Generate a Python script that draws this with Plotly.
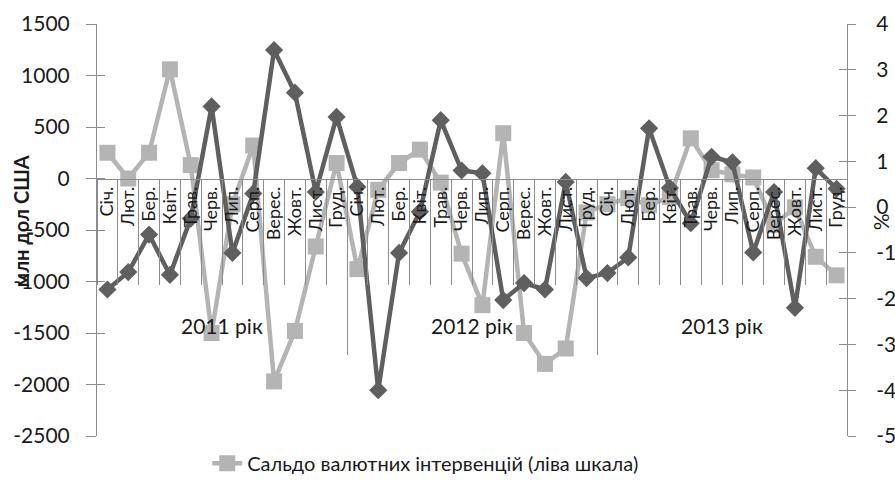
import plotly.graph_objects as go

# ---- data ----
months = ["Січ.", "Лют.", "Бер.", "Квіт.", "Трав.", "Черв.", "Лип.", "Серп.",
          "Верес.", "Жовт.", "Лист.", "Груд."] * 3
years = ["2011 рік", "2012 рік", "2013 рік"]

interventions = [250, 0, 250, 1060, 130, -1500, -250, 320, -1970, -1480, -660, 150,
                 -880, -110, 150, 280, -40, -730, -1230, 440, -1500, -1800, -1650, -330,
                 -250, -190, -260, -180, 390, 80, 40, 10, -450, -280, -760, -940]

pct = [-1.8, -1.42, -0.6, -1.48, -0.25, 2.2, -1.0, 0.3, 3.43, 2.5, 0.33, 1.97,
       0.44, -4.0, -1.0, -0.1, 1.9, 0.8, 0.74, -2.03, -1.66, -1.8, 0.55, -1.55,
       -1.44, -1.1, 1.72, 0.42, -0.35, 1.1, 0.98, -0.99, 0.33, -2.2, 0.85, 0.4]

left_ticks = [1500, 1000, 500, 0, -500, -1000, -1500, -2000, -2500]
right_ticks = [4, 3, 2, 1, 0, -1, -2, -3, -4, -5]

series_name = "Сальдо валютних інтервенцій (ліва шкала)"
series2_name = "Зміна курсу (права шкала)"
left_title = "млн дол США"
right_title = "%"

LIGHT = "#b4b4b4"
DARK = "#5f5f5f"
AXIS = "#8c8c8c"
TXT = "#1a1a1a"
FONT = "Lato"

x = list(range(len(months)))
xrange_ = [-0.5, len(months) - 0.5]
year_bounds = [12 * k - 0.5 for k in range(1, len(years))]
year_centers = [12 * k + 5.5 for k in range(len(years))]
zero_pos = (0 - left_ticks[-1]) / (left_ticks[0] - left_ticks[-1])

fig = go.Figure()
fig.add_trace(go.Scatter(
    x=x, y=interventions, name=series_name, mode="lines+markers",
    line=dict(color=LIGHT, width=4.5),
    marker=dict(symbol="square", size=16, color=LIGHT),
    yaxis="y"))
fig.add_trace(go.Scatter(
    x=x, y=pct, name=series2_name, mode="lines+markers",
    line=dict(color=DARK, width=4.5),
    marker=dict(symbol="diamond", size=14, color=DARK),
    yaxis="y2", showlegend=False))
# empty helper traces so that the overlay axes (dividers / crossing ticks) render
for xa, ya in [("x2", "y"), ("x", "y3"), ("x", "y4")]:
    fig.add_trace(go.Scatter(x=[], y=[], xaxis=xa, yaxis=ya,
                             showlegend=False, hoverinfo="skip"))

fig.update_layout(
    width=895, height=482,
    margin=dict(l=97, r=48, t=24, b=46, autoexpand=False),
    paper_bgcolor="white", plot_bgcolor="white",
    font=dict(family=FONT, color=TXT),
    xaxis=dict(
        range=xrange_, tickmode="array", tickvals=x, ticktext=months,
        tickangle=-90, ticks="", showline=True, linecolor=AXIS, linewidth=1,
        anchor="free", position=zero_pos, showgrid=False, zeroline=False,
        tickfont=dict(size=18, color=TXT, family=FONT),
        minor=dict(tickmode="linear", tick0=-0.5, dtick=1, ticks="outside",
                   ticklen=105, tickcolor=AXIS, tickwidth=1, showgrid=False),
    ),
    xaxis2=dict(
        range=xrange_, overlaying="x", anchor="free", position=zero_pos,
        tickmode="array", tickvals=year_bounds, ticks="outside", ticklen=175,
        tickcolor=AXIS, tickwidth=1, showticklabels=False, showline=False,
        showgrid=False, zeroline=False),
    yaxis=dict(
        range=[left_ticks[-1], left_ticks[0]], tickmode="array",
        tickvals=left_ticks, ticktext=[str(v) for v in left_ticks],
        ticks="outside", ticklen=10, tickcolor=AXIS, showline=True,
        linecolor=AXIS, linewidth=1, showgrid=False, zeroline=False,
        anchor="x", ticklabelstandoff=12,
        tickfont=dict(size=21, color=TXT, family=FONT)),
    yaxis2=dict(
        range=[right_ticks[-1], right_ticks[0]], tickmode="array",
        tickvals=right_ticks, ticktext=[str(v) for v in right_ticks],
        overlaying="y", side="right", anchor="x",
        ticks="outside", ticklen=8, tickcolor=AXIS, showline=True,
        linecolor=AXIS, linewidth=1, showgrid=False, zeroline=False,
        ticklabelstandoff=16,
        tickfont=dict(size=21, color=TXT, family=FONT)),
    yaxis3=dict(
        range=[left_ticks[-1], left_ticks[0]], tickmode="array",
        tickvals=left_ticks, overlaying="y", side="left", anchor="x",
        ticks="inside", ticklen=8, tickcolor=AXIS, showticklabels=False,
        showline=False, showgrid=False, zeroline=False),
    yaxis4=dict(
        range=[right_ticks[-1], right_ticks[0]], tickmode="array",
        tickvals=right_ticks, overlaying="y", side="right", anchor="x",
        ticks="inside", ticklen=8, tickcolor=AXIS, showticklabels=False,
        showline=False, showgrid=False, zeroline=False),
    legend=dict(orientation="h", x=0.147, xanchor="left", y=-0.066,
                yanchor="middle", font=dict(size=20, color=TXT, family=FONT),
                bgcolor="rgba(0,0,0,0)"),
    showlegend=True,
)

for xc, label in zip(year_centers, years):
    fig.add_annotation(x=xc, y=-1430, xref="x", yref="y", text=label,
                       showarrow=False, font=dict(size=21, color=TXT, family=FONT))

fig.add_annotation(x=-0.101, y=0.522, xref="paper", yref="paper",
                   xanchor="center", yanchor="middle",
                   text="<b>" + left_title + "</b>", textangle=-90,
                   showarrow=False, font=dict(size=20, color=TXT, family=FONT))
fig.add_annotation(x=1.044, y=0.519, xref="paper", yref="paper",
                   xanchor="center", yanchor="middle",
                   text=right_title, textangle=-90,
                   showarrow=False, font=dict(size=21, color=TXT, family=FONT))

fig.write_html("out.html",
               config={"displayModeBar": False},
               post_script="document.body.style.margin='0px';"
                           "document.body.style.overflow='hidden';")
